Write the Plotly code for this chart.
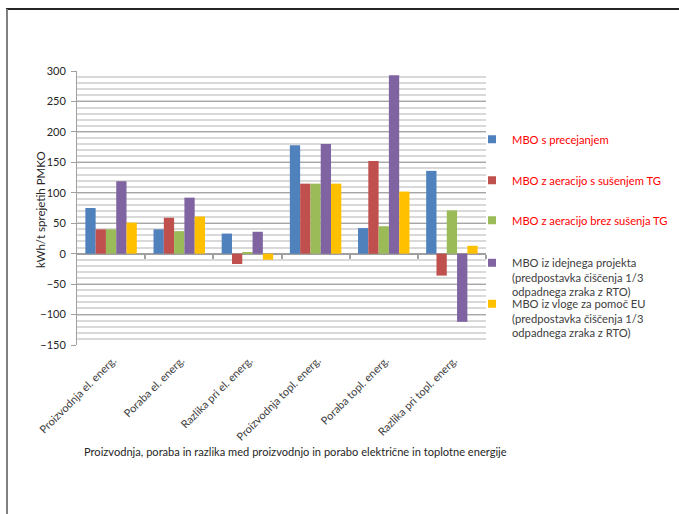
import plotly.graph_objects as go

# Categories on the x axis
categories = [
    "Proizvodnja el. energ.",
    "Poraba el. energ.",
    "Razlika pri el. energ.",
    "Proizvodnja topl. energ.",
    "Poraba topl. energ.",
    "Razlika pri topl. energ.",
]

# Series names (legend text)
series_names = [
    "MBO s precejanjem",
    "MBO z aeracijo s sušenjem TG",
    "MBO z aeracijo brez sušenja TG",
    "MBO iz idejnega projekta<br>(predpostavka čiščenja 1/3<br>odpadnega zraka z RTO)",
    "MBO iz vloge za pomoč EU<br>(predpostavka čiščenja 1/3<br>odpadnega zraka z RTO)",
]

# Values in kWh/t sprejetih PMKO
mbo_precejanje = [75, 40, 33, 178, 42, 136]
mbo_aeracija_susenje = [40, 59, -17, 115, 152, -36]
mbo_aeracija_brez = [40, 37, 2, 115, 45, 71]
mbo_idejni = [119, 92, 36, 180, 293, -112]
mbo_vloga_eu = [51, 61, -10, 115, 102, 13]

series_values = [
    mbo_precejanje,
    mbo_aeracija_susenje,
    mbo_aeracija_brez,
    mbo_idejni,
    mbo_vloga_eu,
]

colors = ["#4F81BD", "#C0504D", "#9BBB59", "#8064A2", "#FFC000"]
legend_font_colors = ["#FF0000", "#FF0000", "#FF0000", "#404040", "#404040"]

y_ticks = [300, 250, 200, 150, 100, 50, 0, -50, -100, -150]

x_title = "Proizvodnja, poraba in razlika med proizvodnjo in porabo električne in toplotne energije"
y_title = "kWh/t sprejetih PMKO"

FONT = "Lato, 'Open Sans', sans-serif"

fig = go.Figure()

for name, vals, col in zip(series_names, series_values, colors):
    fig.add_trace(go.Bar(
        x=categories, y=vals, name=name, marker_color=col,
        marker_line_width=0, showlegend=False,
    ))

# Legend entries with small square swatches, one legend box per series
legend_ids = ["legend", "legend2", "legend3", "legend4", "legend5"]
for i, (name, col) in enumerate(zip(series_names, colors)):
    fig.add_trace(go.Scatter(
        x=[None], y=[None], mode="markers", name=name,
        marker=dict(symbol="square", size=8, color=col),
        legend=legend_ids[i], showlegend=True,
    ))

# Second x axis along the zero line carrying the group separator ticks
fig.add_trace(go.Scatter(x=[None], y=[None], xaxis="x2", showlegend=False))

W, H = 679, 514
L, R, T, B = 77, 193, 71, 169
plot_w = W - L - R
plot_h = H - T - B
y_min, y_max = -150, 300


def px_to_paper_x(px):
    return (px - L) / plot_w


def px_to_paper_y(py):
    return (H - B - py) / plot_h


legend_pos = [140, 181, 221, 249, 290]
legend_layouts = {}
for i, lid in enumerate(legend_ids):
    legend_layouts[lid] = dict(
        x=px_to_paper_x(472), y=px_to_paper_y(legend_pos[i]),
        xanchor="left", yanchor="middle" if i < 3 else "top",
        font=dict(family=FONT, size=11.2, color=legend_font_colors[i]),
        bgcolor="rgba(0,0,0,0)", itemwidth=30, valign="top",
    )

fig.update_layout(
    width=W, height=H,
    margin=dict(l=L, r=R, t=T, b=B, autoexpand=False),
    paper_bgcolor="white", plot_bgcolor="white",
    barmode="group", bargap=0.245, bargroupgap=0,
    font=dict(family=FONT, size=11, color="#404040"),
    xaxis=dict(
        type="category", categoryorder="array", categoryarray=categories,
        tickangle=-45, tickfont=dict(family=FONT, size=11, color="#404040"),
        ticklabelstandoff=6, ticklabelshift=2,
        showgrid=False, showline=False, ticks="", zeroline=False,
        automargin=False,
    ),
    xaxis2=dict(
        overlaying="x", anchor="free",
        position=(0 - y_min) / (y_max - y_min),
        range=[-0.5, 5.5], tickvals=[0.5, 1.5, 2.5, 3.5, 4.5, 5.5],
        ticks="outside", ticklen=4, tickcolor="#A0A0A0", tickwidth=1.5,
        showticklabels=False, showgrid=False, zeroline=False, showline=False,
    ),
    yaxis=dict(
        range=[y_min, y_max], tickvals=y_ticks,
        tickfont=dict(family=FONT, size=11, color="#262626"),
        ticklabelstandoff=3,
        showgrid=True, gridcolor="#A6A6A6", gridwidth=1,
        minor=dict(dtick=10, showgrid=True, gridcolor="#D9D9D9", gridwidth=1.5),
        zeroline=True, zerolinecolor="#A0A0A0", zerolinewidth=1.5,
        showline=True, linecolor="#A0A0A0", linewidth=1,
        ticks="outside", ticklen=5, tickcolor="#A0A0A0",
        automargin=False,
    ),
    **legend_layouts,
)

# Horizontal axis title below the rotated category labels
fig.add_annotation(
    text=x_title, xref="paper", yref="paper",
    x=px_to_paper_x(295.5), y=px_to_paper_y(451),
    xanchor="center", yanchor="middle", showarrow=False,
    font=dict(family=FONT, size=11.1, color="#262626"),
)

# Vertical axis title
fig.add_annotation(
    text=y_title, xref="paper", yref="paper",
    x=px_to_paper_x(40), y=px_to_paper_y(210), textangle=-90,
    xanchor="center", yanchor="middle", showarrow=False,
    font=dict(family=FONT, size=11.5, color="#262626"),
)

# Chart frame: top and left border lines
fig.add_shape(type="line", xref="paper", yref="paper",
              x0=px_to_paper_x(6), x1=px_to_paper_x(W + 2),
              y0=px_to_paper_y(9), y1=px_to_paper_y(9),
              line=dict(color="#262626", width=2))
fig.add_shape(type="line", xref="paper", yref="paper",
              x0=px_to_paper_x(7), x1=px_to_paper_x(7),
              y0=px_to_paper_y(9), y1=px_to_paper_y(H + 2),
              line=dict(color="#808080", width=2))

fig.write_html("out.html")
